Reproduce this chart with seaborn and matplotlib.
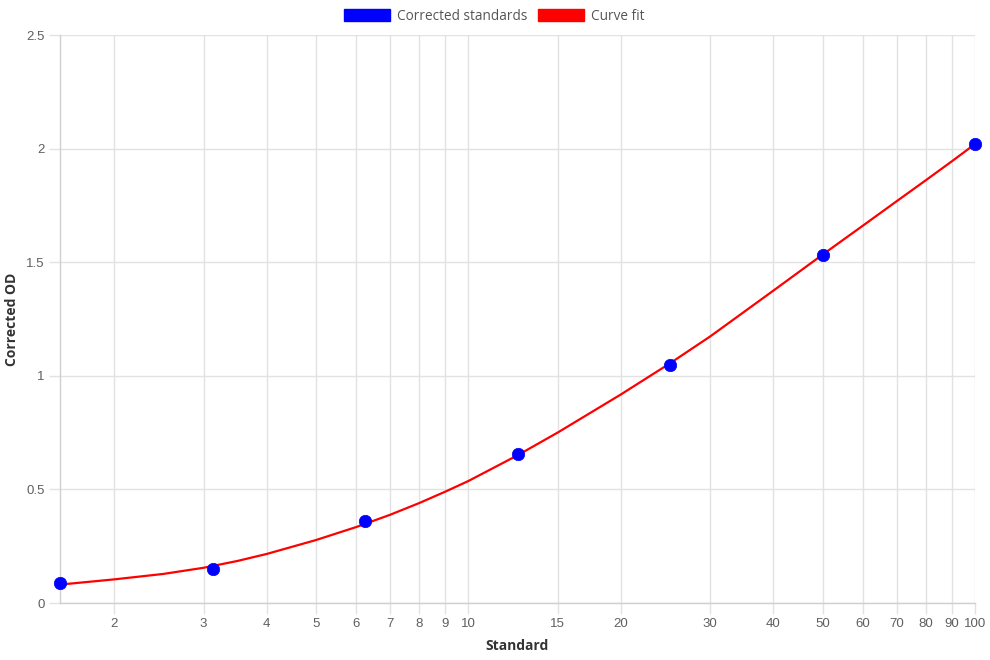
"""
Standard curve: corrected OD of the standards with the fitted curve on a log x axis.
"""

import matplotlib
matplotlib.use("Agg")
import matplotlib.pyplot as plt
from matplotlib.patches import Patch
from matplotlib.ticker import FixedLocator, NullLocator
import pandas as pd
import seaborn as sns

# Data
standard_conc = [1.5625, 3.125, 6.25, 12.5, 25, 50, 100]
corrected_od = [0.089, 0.150, 0.361, 0.655, 1.046, 1.533, 2.019]

fit_conc = [1.5625, 2, 2.5, 3, 3.5, 4, 5, 6, 7, 8, 9, 10, 12.5, 15, 20, 25,
            30, 40, 50, 60, 70, 80, 90, 100]
fit_od = [0.081, 0.104, 0.128, 0.155, 0.185, 0.216, 0.277, 0.334, 0.388, 0.440,
          0.490, 0.537, 0.650, 0.750, 0.918, 1.055, 1.173, 1.375, 1.533, 1.660,
          1.768, 1.861, 1.944, 2.020]

x_ticks = [2, 3, 4, 5, 6, 7, 8, 9, 10, 15, 20, 30, 40, 50, 60, 70, 80, 90, 100]
y_ticks = [0, 0.5, 1, 1.5, 2, 2.5]
y_tick_labels = ["0", "0.5", "1", "1.5", "2", "2.5"]

# Style
GRID_COLOR = "#e2e2e2"
TICK_COLOR = "#5f5f5f"
TITLE_FONT = ["Open Sans", "DejaVu Sans"]
TICK_FONT = ["Liberation Sans", "DejaVu Sans"]

sns.set_theme(style="white")
plt.rcParams["font.family"] = TICK_FONT


def main():
    points_df = pd.DataFrame({"Standard": standard_conc, "Corrected OD": corrected_od})
    fit_df = pd.DataFrame({"Standard": fit_conc, "Corrected OD": fit_od})

    fig = plt.figure(figsize=(9.9, 6.6), dpi=100)
    ax = fig.add_axes([60 / 990, 1 - 603 / 660, 915 / 990, 568 / 660])

    sns.lineplot(data=fit_df, x="Standard", y="Corrected OD", color="#ff0000",
                 linewidth=1.6, ax=ax, zorder=3)
    sns.scatterplot(data=points_df, x="Standard", y="Corrected OD", color="#0000ff",
                    s=80, edgecolor="#0000ff", linewidth=0.5, ax=ax, zorder=4,
                    clip_on=False)

    # Axes and scales
    ax.set_xscale("log")
    ax.set_xlim(1.5625, 100)
    ax.set_ylim(0, 2.5)
    ax.xaxis.set_major_locator(FixedLocator(x_ticks))
    ax.xaxis.set_minor_locator(NullLocator())
    ax.set_xticklabels([str(t) for t in x_ticks])
    ax.set_yticks(y_ticks)
    ax.set_yticklabels(y_tick_labels)
    ax.tick_params(axis="both", which="major", length=8, width=1, color=GRID_COLOR,
                   labelcolor=TICK_COLOR, labelsize=9.5, pad=3, direction="out",
                   left=True, bottom=True)
    ax.grid(True, which="major", color=GRID_COLOR, linewidth=1, zorder=0)

    for side in ["top", "right"]:
        ax.spines[side].set_visible(False)
    for side in ["left", "bottom"]:
        ax.spines[side].set_color("#cfcfcf")
        ax.spines[side].set_linewidth(1)

    ax.set_xlabel("Standard", fontsize=10, fontweight="bold", color="#333333",
                  family=TITLE_FONT, labelpad=6)
    ax.set_ylabel("Corrected OD", fontsize=10, fontweight="bold", color="#333333",
                  family=TITLE_FONT, labelpad=5)

    # Legend on top
    handles = [
        Patch(facecolor="#0000ff", edgecolor="#0000ff", label="Corrected standards"),
        Patch(facecolor="#ff0000", edgecolor="#ff0000", label="Curve fit"),
    ]
    fig.legend(handles=handles, loc="center", bbox_to_anchor=(0.499, 1 - 16 / 660),
               ncol=2, frameon=False, handlelength=3.4, handleheight=1.0,
               handletextpad=0.5, columnspacing=0.8,
               prop={"family": TITLE_FONT, "size": 9.8}, labelcolor="#555555")

    fig.savefig("out.png", dpi=100)
    plt.close(fig)


if __name__ == "__main__":
    main()
